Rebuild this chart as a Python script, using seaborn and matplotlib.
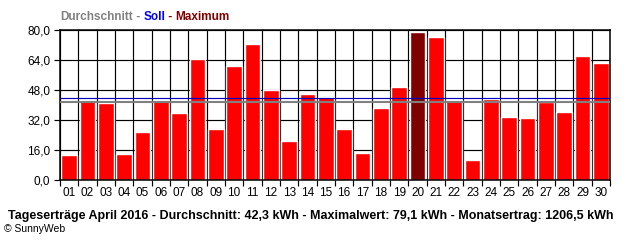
import matplotlib
matplotlib.use("Agg")
import matplotlib.pyplot as plt
import seaborn as sns
import pandas as pd
import numpy as np

days = [f"{i:02d}" for i in range(1, 31)]
values = [13.3, 42.1, 41.2, 14.0, 25.6, 42.7, 35.7, 64.5, 27.2, 60.8,
          72.5, 48.0, 20.8, 45.9, 44.1, 27.2, 14.6, 38.4, 49.6, 79.1,
          76.3, 42.7, 10.7, 43.2, 33.6, 33.1, 41.6, 36.3, 66.1, 62.4]
average_line = 41.6
target_line = 44.0
yticks = [0, 16, 32, 48, 64, 80]
ytick_labels = ["0,0", "16,0", "32,0", "48,0", "64,0", "80,0"]
footer = "Tageserträge April 2016 - Durchschnitt: 42,3 kWh - Maximalwert: 79,1 kWh - Monatsertrag: 1206,5 kWh"

sns.set_style("white")
plt.rcParams['font.family'] = ['Liberation Sans', 'DejaVu Sans']
plt.rcParams['text.color'] = 'black'
plt.rcParams['xtick.color'] = 'black'
plt.rcParams['ytick.color'] = 'black'
plt.rcParams['xtick.labelcolor'] = 'black'
plt.rcParams['ytick.labelcolor'] = 'black'

df = pd.DataFrame({"day": days, "value": values})
maxv = max(values)
palette = {d: ("#800000" if v == maxv else "#ff0000") for d, v in zip(days, values)}

fig = plt.figure(figsize=(6.4, 2.4), dpi=100)
ax = fig.add_axes([60/640, 1-180/240, 550/640, 150/240])

LW = 0.85
for y in yticks[1:]:
    ax.axhline(y, color="black", lw=LW, zorder=0)
for i in range(len(days) + 1):
    ax.axvline(i - 0.5, color="black", lw=LW, zorder=0)

sns.barplot(data=df, x="day", y="value", hue="day", palette=palette,
            legend=False, width=0.86, saturation=1, ax=ax, zorder=2)

ax.axhline(target_line, color="#0000c0", lw=0.85, zorder=3)
ax.axhline(average_line, color="#808080", lw=1.5, zorder=3)

ax.set_xlim(-0.5, len(days) - 0.5)
ax.set_ylim(0, 80)
ax.set_yticks(yticks)
ax.set_yticklabels(ytick_labels, fontsize=8.5, color="black")
ax.set_xticks(range(len(days)))
ax.set_xticklabels(days, fontsize=8.5, color="black")
ax.set_xticks(np.arange(-0.5, len(days)), minor=True)
ax.tick_params(axis="x", which="major", length=0, pad=5)
ax.tick_params(axis="x", which="minor", length=4, width=LW, direction="out", bottom=True, color="black")
ax.tick_params(axis="y", length=4, width=LW, direction="out", left=True, pad=3, color="black")
ax.set_xlabel("")
ax.set_ylabel("")
for s in ax.spines.values():
    s.set_color("black")
    s.set_linewidth(1.1)

fig.canvas.draw()
r = fig.canvas.get_renderer()

# header legend text
x0 = 60/640
y0 = 1 - 17/240
parts = [("Durchschnitt", "#808080"), (" - ", "#808080"), ("Soll", "#0000ff"),
         (" - ", "#800000"), ("Maximum", "#800000")]
xc = x0
for s, c in parts:
    t = fig.text(xc, y0, s, color=c, fontsize=8.5, fontweight="bold", va="center")
    bb = t.get_window_extent(r)
    xc = bb.x1 / fig.bbox.width

ft = fig.text(8/640, 1 - 216/240, footer, fontsize=9, fontweight="bold", va="center", color="black")
w = ft.get_window_extent(r).width
ft.set_fontsize(9 * 607 / w)
fig.text(4/640, 1 - 229/240, "© SunnyWeb", fontsize=7.5, va="center", color="black")

fig.savefig("out.png", dpi=100)
